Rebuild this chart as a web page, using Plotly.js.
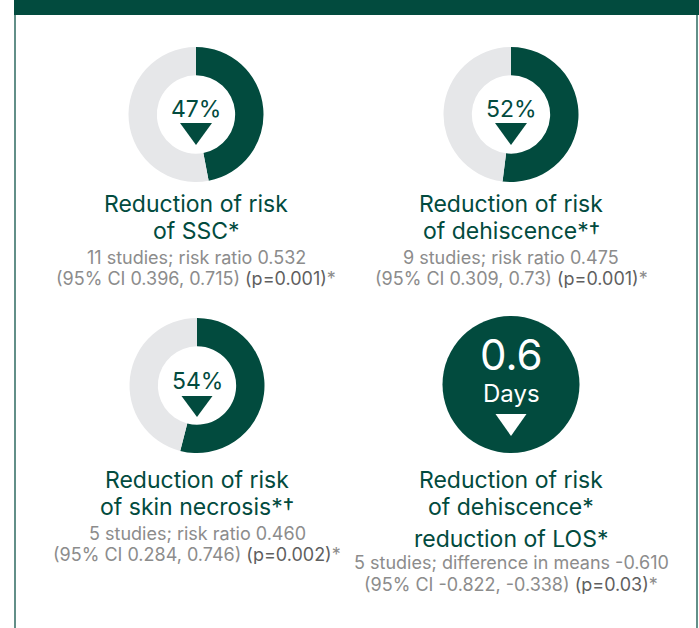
<!DOCTYPE html>
<html>
<head>
<meta charset="utf-8">
<script src="https://cdn.plot.ly/plotly-3.0.1.min.js"></script>
<style>html,body{margin:0;padding:0;background:#fff;}#chart{width:699px;height:628px;}</style>
</head>
<body>
<div id="chart"></div>
<script>
// ---- data ----
const reductionPct = [47, 52, 54];
const pctLabels = ['47%', '52%', '54%'];
const losDays = [0.6];
const losLabel = '0.6';
const losUnit = 'Days';
const titles = [
  ['Reduction of risk', 'of SSC*'],
  ['Reduction of risk', 'of dehiscence*\u2020'],
  ['Reduction of risk', 'of skin necrosis*\u2020'],
  ['Reduction of risk', 'of dehiscence*', 'reduction of LOS*']
];
const stats = [
  ['11 studies; risk ratio 0.532', '(95% CI 0.396, 0.715) ', '(p=0.001)', '*'],
  ['9 studies; risk ratio 0.475', '(95% CI 0.309, 0.73) ', '(p=0.001)', '*'],
  ['5 studies; risk ratio 0.460', '(95% CI 0.284, 0.746) ', '(p=0.002)', '*'],
  ['5 studies; difference in means -0.610', '(95% CI -0.822, -0.338) ', '(p=0.03)', '*']
];

// ---- layout constants ----
const W = 699, H = 628;
const GREEN = '#024b3e', LIGHT = '#e6e7e9', GREY = '#8c8c8c', DGREY = '#5f5f5f';
const FONT = 'Inter, Roboto, Arial, sans-serif';
const px = x => x / W;
const py = y => 1 - y / H;
const dom = (cx, cy, r) => ({x: [px(cx - r), px(cx + r)], y: [py(cy + r), py(cy - r)]});

const centers = [[196, 114.5], [511, 114.5], [197, 385.5], [511, 384.5]];
const R = 67.5;

const traces = reductionPct.map((v, i) => ({
  type: 'pie', values: [v, 100 - v], marker: {colors: [GREEN, LIGHT], line: {width: 0}},
  hole: 0.58, sort: false, direction: 'clockwise', rotation: 0,
  textinfo: 'none', hoverinfo: 'skip', showlegend: false,
  domain: dom(centers[i][0], centers[i][1], R)
}));
traces.push({
  type: 'pie', values: losDays, marker: {colors: [GREEN], line: {width: 0}},
  hole: 0, sort: false, textinfo: 'none', hoverinfo: 'skip', showlegend: false,
  domain: dom(centers[3][0], centers[3][1], R + 1)
});

const ann = [];
const A = (x, y, text, size, color, h) => {
  const a = {
    xref: 'paper', yref: 'paper', x: px(x), y: py(y), text: text, showarrow: false,
    xanchor: 'center', yanchor: 'middle', borderpad: 0,
    font: {family: FONT, size: size, color: color}
  };
  if (h) a.height = h;
  ann.push(a);
};

pctLabels.forEach((t, i) => A(centers[i][0], centers[i][1] - 5, t, 23, GREEN));
A(centers[3][0], 353.5, losLabel, 42, '#ffffff', 34);
A(centers[3][0], 393, losUnit, 24, '#ffffff', 28);

const titleY = [[204, 231], [204, 231], [479, 506], [479, 506, 538]];
const statY = [[257, 278], [257, 278], [533, 554], [562, 584]];
titles.forEach((lines, i) => lines.forEach((t, j) => A(centers[i][0], titleY[i][j], t, 23, GREEN, 23)));
stats.forEach((s, i) => {
  A(centers[i][0], statY[i][0], s[0], 18, GREY, 20);
  A(centers[i][0], statY[i][1], s[1] + '<span style="color:' + DGREY + '">' + s[2] + '</span>' + s[3], 18, GREY, 20);
});

const tri = (cx, top, bot, half) =>
  'M' + px(cx - half) + ',' + py(top) + ' L' + px(cx + half) + ',' + py(top) + ' L' + px(cx) + ',' + py(bot) + ' Z';

const shapes = [
  {type: 'rect', xref: 'paper', yref: 'paper', x0: px(14), x1: px(699), y0: py(15), y1: py(0), fillcolor: GREEN, line: {width: 0}},
  {type: 'line', xref: 'paper', yref: 'paper', x0: px(15), x1: px(15), y0: py(15), y1: py(628), line: {color: '#2e6a60', width: 1.5}},
  {type: 'line', xref: 'paper', yref: 'paper', x0: px(697), x1: px(697), y0: py(15), y1: py(628), line: {color: '#2e6a60', width: 1.5}},
  {type: 'path', xref: 'paper', yref: 'paper', path: tri(196, 123, 145, 16), fillcolor: GREEN, line: {width: 0}},
  {type: 'path', xref: 'paper', yref: 'paper', path: tri(511, 123, 145, 16), fillcolor: GREEN, line: {width: 0}},
  {type: 'path', xref: 'paper', yref: 'paper', path: tri(197, 396, 417, 15.5), fillcolor: GREEN, line: {width: 0}},
  {type: 'path', xref: 'paper', yref: 'paper', path: tri(511, 414, 436, 15.5), fillcolor: '#ffffff', line: {width: 0}}
];

const layout = {
  width: W, height: H, margin: {l: 0, r: 0, t: 0, b: 0},
  paper_bgcolor: '#ffffff', plot_bgcolor: '#ffffff',
  showlegend: false, annotations: ann, shapes: shapes
};
Plotly.newPlot('chart', traces, layout, {staticPlot: true, displayModeBar: false});
</script>
</body>
</html>
